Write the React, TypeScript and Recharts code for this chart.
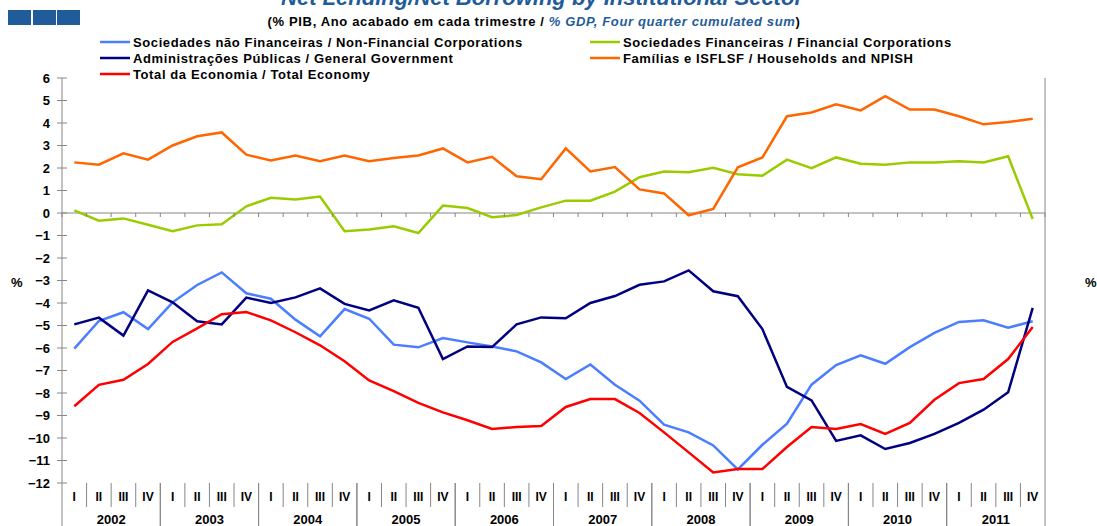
import React from "react";
import { LineChart, Line, XAxis, YAxis, ReferenceLine } from "recharts";

// categories
const years = ["2002", "2003", "2004", "2005", "2006", "2007", "2008", "2009", "2010", "2011"];
const quarters = ["I", "II", "III", "IV"];
const yTicks = [-12, -11, -10, -9, -8, -7, -6, -5, -4, -3, -2, -1, 0, 1, 2, 3, 4, 5, 6];

// series (% GDP, four quarter cumulated sum)
const nonFinancial = [
    -6.03, -4.8, -4.41, -5.16, -3.97, -3.2, -2.64, -3.57, -3.81, -4.74,
    -5.48, -4.27, -4.7, -5.85, -5.97, -5.56, -5.75, -5.93, -6.15, -6.64,
    -7.38, -6.73, -7.63, -8.34, -9.41, -9.75, -10.33, -11.4, -10.3, -9.36,
    -7.63, -6.76, -6.33, -6.7, -5.96, -5.33, -4.84, -4.77, -5.1, -4.81,
];
const financial = [
    0.12, -0.34, -0.24, -0.52, -0.81, -0.55, -0.5, 0.3, 0.68, 0.6,
    0.73, -0.81, -0.73, -0.59, -0.89, 0.33, 0.22, -0.19, -0.09, 0.25,
    0.55, 0.55, 0.95, 1.59, 1.84, 1.81, 2.01, 1.72, 1.66, 2.37,
    1.99, 2.47, 2.19, 2.15, 2.25, 2.25, 2.3, 2.25, 2.52, -0.27,
];
const government = [
    -4.95, -4.65, -5.45, -3.44, -3.97, -4.81, -4.95, -3.76, -4.0, -3.75,
    -3.35, -4.04, -4.33, -3.88, -4.21, -6.49, -5.93, -5.96, -4.95, -4.64,
    -4.68, -4.0, -3.69, -3.19, -3.04, -2.55, -3.48, -3.7, -5.16, -7.73,
    -8.33, -10.13, -9.88, -10.49, -10.22, -9.82, -9.33, -8.74, -7.97, -4.22,
];
const households = [
    2.25, 2.15, 2.65, 2.37, 3.0, 3.41, 3.58, 2.59, 2.33, 2.55,
    2.3, 2.55, 2.3, 2.44, 2.56, 2.87, 2.25, 2.5, 1.63, 1.5,
    2.87, 1.85, 2.04, 1.05, 0.87, -0.1, 0.18, 2.03, 2.47, 4.3,
    4.47, 4.83, 4.56, 5.19, 4.6, 4.6, 4.3, 3.94, 4.04, 4.19,
];
const total = [
    -8.59, -7.64, -7.41, -6.71, -5.73, -5.13, -4.5, -4.4, -4.77, -5.3,
    -5.88, -6.59, -7.44, -7.92, -8.44, -8.86, -9.21, -9.6, -9.51, -9.47,
    -8.62, -8.27, -8.27, -8.89, -9.75, -10.64, -11.53, -11.38, -11.38, -10.4,
    -9.51, -9.6, -9.38, -9.82, -9.33, -8.3, -7.56, -7.38, -6.49, -5.07,
];

const series = [
    { key: "nonFinancial", name: "Sociedades não Financeiras / Non-Financial Corporations", color: "#4A7EFF" },
    { key: "financial", name: "Sociedades Financeiras / Financial Corporations", color: "#99CC00" },
    { key: "government", name: "Administrações Públicas / General Government", color: "#000080" },
    { key: "households", name: "Famílias e ISFLSF / Households and NPISH", color: "#FF6600" },
    { key: "total", name: "Total da Economia / Total Economy", color: "#FF0000" },
];

const categories = years.flatMap((y) => quarters.map((q) => `${y} ${q}`));
const data = categories.map((cat, i) => ({
    cat,
    nonFinancial: nonFinancial[i],
    financial: financial[i],
    government: government[i],
    households: households[i],
    total: total[i],
}));

const W = 1097;
const H = 526;
const PLOT_LEFT = 62;
const PLOT_RIGHT = 1045;
const PLOT_TOP = 78;
const PLOT_BOTTOM = 483;
const BAND = (PLOT_RIGHT - PLOT_LEFT) / categories.length;
const Y_MIN = -12;
const Y_MAX = 6;
const ZERO_Y = PLOT_TOP + ((PLOT_BOTTOM - PLOT_TOP) * Y_MAX) / (Y_MAX - Y_MIN);
const AXIS = "#868686";
const FONT = "'Liberation Sans', Arial, sans-serif";
const BLUE = "#1F5C99";

const fmt = (v: number) => (v < 0 ? "\u2212" + Math.abs(v) : String(v));

function LeftTick(props: any) {
    const { x, y, payload } = props;
    return (
        <g>
            <line x1={x - 5} x2={x + 5} y1={y} y2={y} stroke={AXIS} />
            <text x={x - 12} y={y + 4.5} textAnchor="end" fontSize={13} fontWeight="bold" fill="#000" fontFamily={FONT}>
                {fmt(payload.value)}
            </text>
        </g>
    );
}

function RightTick(props: any) {
    const { x, y, payload } = props;
    return (
        <g>
            <line x1={x - 5} x2={x + 5} y1={y} y2={y} stroke={AXIS} />
            <text x={x + 14} y={y + 4.5} textAnchor="start" fontSize={13} fontWeight="bold" fill="#000" fontFamily={FONT}>
                {fmt(payload.value)}
            </text>
        </g>
    );
}

function QuarterTick(props: any) {
    const { x, y, payload, index } = props;
    const [year, q] = String(payload.value).split(" ");
    const qi = quarters.indexOf(q);
    const left = x - BAND / 2;
    const right = x + BAND / 2;
    return (
        <g>
            {/* tick marks on the zero line */}
            <line x1={right} x2={right} y1={ZERO_Y} y2={ZERO_Y + 4} stroke={AXIS} />
            {index === 0 && <line x1={left} x2={left} y1={ZERO_Y} y2={ZERO_Y + 4} stroke={AXIS} />}
            {/* separators */}
            <line x1={right} x2={right} y1={y} y2={qi === 3 ? H : y + 24} stroke={AXIS} />
            {qi === 0 && <line x1={left} x2={left} y1={y} y2={H} stroke={AXIS} />}
            <text x={x} y={y + 18} textAnchor="middle" fontSize={12} fontWeight="bold" fill="#000" fontFamily={FONT}>
                {q}
            </text>
            {qi === 1 && (
                <text x={right} y={H - 2} textAnchor="middle" fontSize={13} fontWeight="bold" fill="#000" fontFamily={FONT}>
                    {year}
                </text>
            )}
        </g>
    );
}

function Legend() {
    const cols = [100, 590];
    const rows = [42, 58, 74];
    return (
        <g>
            {series.map((s, i) => {
                const x = cols[i % 2];
                const y = rows[Math.floor(i / 2)];
                return (
                    <g key={s.key}>
                        <line x1={x} x2={x + 30} y1={y} y2={y} stroke={s.color} strokeWidth={2.5} />
                        <text x={x + 33} y={y + 4.5} fontSize={13} letterSpacing={0.6} fontWeight="bold" fill="#000" fontFamily={FONT}>
                            {s.name}
                        </text>
                    </g>
                );
            })}
        </g>
    );
}

export default function App() {
    return (
        <div style={{ position: "absolute", left: 0, top: 0, width: W, height: H, overflow: "hidden", background: "#fff" }}>
            <LineChart width={W} height={H} data={data} margin={{ top: PLOT_TOP, right: 2, bottom: 0, left: 2 }}>
                <XAxis
                    dataKey="cat"
                    scale="band"
                    interval={0}
                    height={H - PLOT_BOTTOM}
                    axisLine={false}
                    tickLine={false}
                    tickSize={0}
                    tickMargin={0}
                    tick={<QuarterTick />}
                />
                <YAxis
                    yAxisId="left"
                    domain={[Y_MIN, Y_MAX]}
                    ticks={yTicks}
                    interval={0}
                    width={PLOT_LEFT - 2}
                    axisLine={{ stroke: AXIS }}
                    tickLine={false}
                    tickSize={0}
                    tickMargin={0}
                    tick={<LeftTick />}
                />
                <YAxis
                    yAxisId="right"
                    orientation="right"
                    domain={[Y_MIN, Y_MAX]}
                    ticks={yTicks}
                    interval={0}
                    width={W - PLOT_RIGHT - 2}
                    axisLine={{ stroke: AXIS }}
                    tickLine={false}
                    tickSize={0}
                    tickMargin={0}
                    tick={<RightTick />}
                />
                <ReferenceLine yAxisId="left" y={0} stroke={AXIS} />
                {series.map((s) => (
                    <Line
                        key={s.key}
                        yAxisId="left"
                        type="linear"
                        dataKey={s.key}
                        name={s.name}
                        stroke={s.color}
                        strokeWidth={2.5}
                        dot={false}
                        isAnimationActive={false}
                    />
                ))}
            </LineChart>
            <svg width={W} height={H} style={{ position: "absolute", left: 0, top: 0, pointerEvents: "none" }}>
                <rect x={8} y={10} width={23} height={15} fill={BLUE} />
                <rect x={33} y={10} width={23} height={15} fill={BLUE} />
                <rect x={57} y={10} width={23} height={15} fill={BLUE} />
                <text x={542} y={5} textAnchor="middle" fontSize={22} fontWeight="bold" fontStyle="italic" fill={BLUE} fontFamily={FONT}>
                    Net Lending/Net Borrowing by Institutional Sector
                </text>
                <text x={534} y={26} textAnchor="middle" fontSize={13} letterSpacing={0.65} fontWeight="bold" fill="#000" fontFamily={FONT}>
                    <tspan>(% PIB, Ano acabado em cada trimestre / </tspan>
                    <tspan fill={BLUE} fontStyle="italic">% GDP, Four quarter cumulated sum</tspan>
                    <tspan>)</tspan>
                </text>
                <Legend />
                <text x={11} y={287} fontSize={13} fontWeight="bold" fill="#000" fontFamily={FONT}>%</text>
                <text x={1085} y={287} fontSize={13} fontWeight="bold" fill="#000" fontFamily={FONT}>%</text>
            </svg>
        </div>
    );
}
